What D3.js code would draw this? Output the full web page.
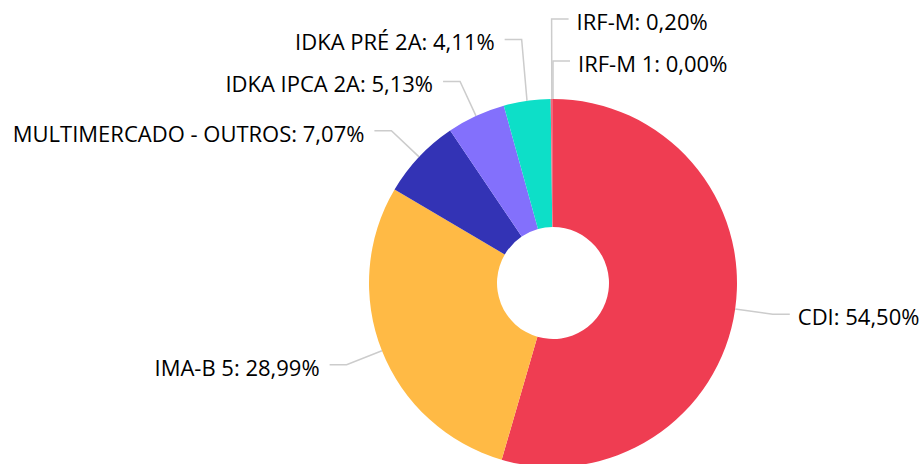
<!DOCTYPE html>
<html>
<head>
<meta charset="utf-8">
<script src="https://cdn.jsdelivr.net/npm/d3@7"></script>
<style>
  body { margin: 0; background: #fff; }
  text { font-family: "Open Sans", sans-serif; }
</style>
</head>
<body>
<svg id="svg"></svg>
<script>
var width = 924, height = 464;

var categories = ["CDI", "IMA-B 5", "MULTIMERCADO - OUTROS", "IDKA IPCA 2A", "IDKA PRÉ 2A", "IRF-M", "IRF-M 1"];
var values = [54.50, 28.99, 7.07, 5.13, 4.11, 0.20, 0.00];
var colors = ["#ef3d52", "#ffba45", "#3333b5", "#8370fc", "#0ddfc8", "#f5667a", "#cccccc"];

var cx = 553, cy = 283;
var outerR = 184, innerR = 56;
var tickR = 222, tickLen = 17, spacing = 42;

var svg = d3.select("#svg")
	.attr("width", width)
	.attr("height", height);

var data = categories.map(function(c, i) { return {name: c, value: values[i], color: colors[i]}; });

var pie = d3.pie()
	.sort(null)
	.value(function(d) { return d.value; });

var arcs = pie(data);

var arc = d3.arc()
	.innerRadius(innerR)
	.outerRadius(outerR);

var g = svg.append("g")
	.attr("transform", "translate(" + cx + "," + cy + ")");

g.selectAll("path")
	.data(arcs)
	.enter()
	.append("path")
	.attr("d", arc)
	.attr("fill", function(d) { return d.data.color; });

// label placement
var fmt = function(v) { return v.toFixed(2).replace(".", ","); };

arcs.forEach(function(d) {
	var a = (d.startAngle + d.endAngle) / 2;
	d.mid = a;
	d.px = outerR * Math.sin(a);
	d.py = -outerR * Math.cos(a);
	d.tx = tickR * Math.sin(a);
	d.ty = -tickR * Math.cos(a);
	d.right = Math.sin(a) > -0.02;
	d.norm = a > Math.PI ? a - 2 * Math.PI : a;
});

var rightSide = arcs.filter(function(d) { return d.right; })
	.sort(function(a, b) { return b.norm - a.norm; });
var leftSide = arcs.filter(function(d) { return !d.right; })
	.sort(function(a, b) { return a.mid - b.mid; });

[rightSide, leftSide].forEach(function(list) {
	var prev = Infinity;
	list.forEach(function(d) {
		d.ly = Math.min(d.ty, prev - spacing);
		prev = d.ly;
	});
});

var labels = g.selectAll("g.label")
	.data(arcs)
	.enter()
	.append("g")
	.attr("class", "label");

labels.append("polyline")
	.attr("points", function(d) {
		var ex = d.tx + (d.right ? tickLen : -tickLen);
		return [[d.px, d.py], [d.tx, d.ly], [ex, d.ly]].join(" ");
	})
	.attr("fill", "none")
	.attr("stroke", "#cccccc")
	.attr("stroke-width", 1.5);

labels.append("text")
	.attr("x", function(d) { return d.tx + (d.right ? tickLen + 8 : -tickLen - 10); })
	.attr("y", function(d) { return d.ly + 11; })
	.attr("text-anchor", function(d) { return d.right ? "start" : "end"; })
	.attr("font-size", "22px")
	.attr("fill", "#000")
	.text(function(d) { return d.data.name + ": " + fmt(d.data.value) + "%"; });
</script>
</body>
</html>
